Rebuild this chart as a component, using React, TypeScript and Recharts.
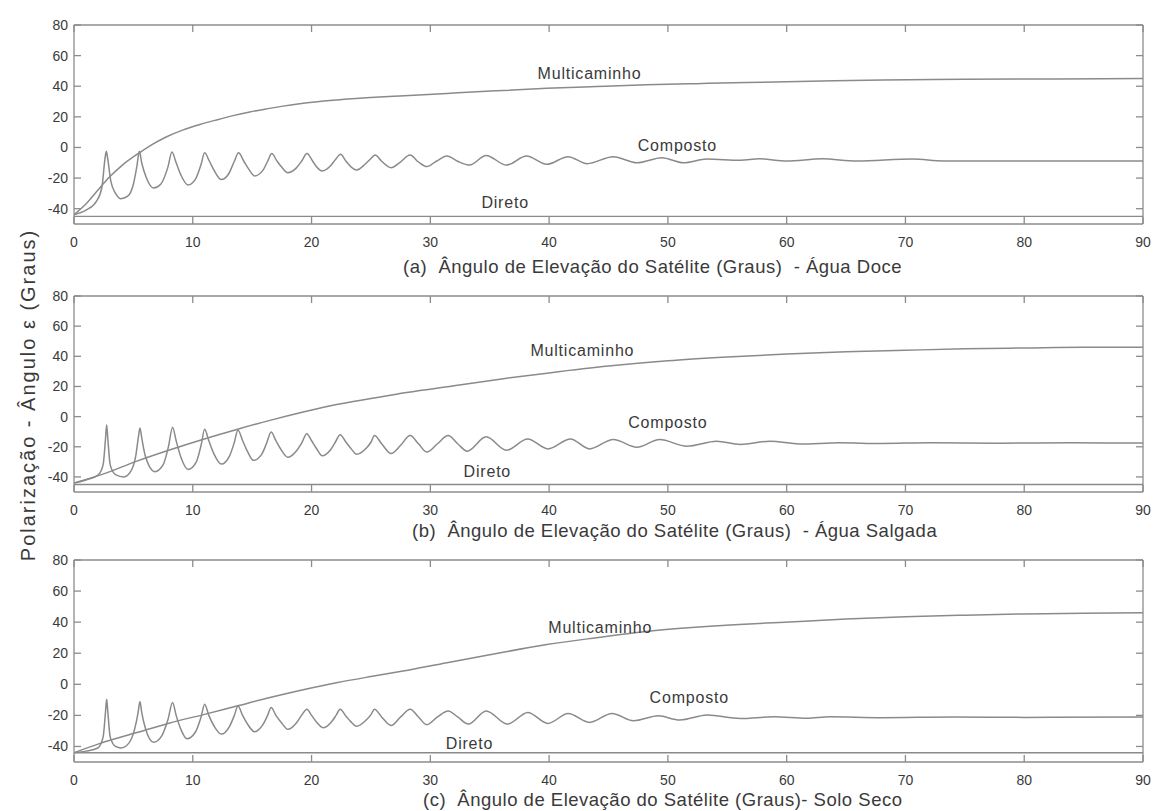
import React from 'react';
import { LineChart, Line, XAxis, YAxis, ReferenceDot } from 'recharts';

const FONT = '"Liberation Sans", Arial, Helvetica, sans-serif';
const AX = '#8c8c8c';
const LC = '#8a8a8a';
const TXT = '#3a3a3a';

const xTicks = [0, 10, 20, 30, 40, 50, 60, 70, 80, 90];
const yTicks = [-40, -20, 0, 20, 40, 60, 80];
const yDomain = [-50, 80];
const xDomain = [0, 90];

const seriesNames = ['Multicaminho', 'Composto', 'Direto'];
const titles = [
  '(a)  Ângulo de Elevação do Satélite (Graus)  - Água Doce',
  '(b)  Ângulo de Elevação do Satélite (Graus)  - Água Salgada',
  '(c)  Ângulo de Elevação do Satélite (Graus)- Solo Seco',
];
const yTitle = 'Polarização - Ângulo ε (Graus)';

// ---------- Panel (a) Água Doce ----------
const diretoAX = [0, 90];
const diretoAY = [-45, -45];
const multiAX = [0, 1, 2, 2.9, 4, 5.5, 6.6, 7.8, 9.2, 10.6, 12, 13.4, 14.8, 16.2, 17.6, 19, 21.8, 24.6, 27.4, 31.4, 35.5, 39.8, 44, 48.2, 52.4, 56.6, 60, 64, 68.1, 75, 82.7, 90];
const multiAY = [-44, -37, -28, -20, -12, -3.5, 2, 7, 11.5, 15, 18, 20.8, 23.2, 25.2, 27, 28.5, 30.8, 32.4, 33.6, 35.3, 37, 38.6, 39.8, 40.9, 41.7, 42.4, 43, 43.6, 44.1, 44.5, 44.8, 45];
const compAX = [0, 1, 1.9, 2.35, 2.6, 2.72, 2.85, 3.1, 3.5, 3.95, 4.5, 5.0, 5.3, 5.5, 5.7, 6.1, 6.7, 7.3, 7.9, 8.25, 8.6, 9.0, 9.6, 10.2, 10.7, 11.0, 11.4, 11.8, 12.4, 13.0, 13.5, 13.85, 14.3, 14.7, 15.2, 15.9, 16.3, 16.65, 17.1, 17.5, 18.0, 18.7, 19.2, 19.6, 20.1, 20.4, 20.9, 21.6, 22.0, 22.45, 22.9, 23.3, 23.8, 24.5, 24.9, 25.35, 25.9, 26.7, 27.4, 28.3, 29.0, 29.7, 30.5, 31.4, 32.3, 33.3, 34.7, 36.4, 38.1, 39.8, 41.6, 43.2, 45.4, 47.4, 49.5, 51.3, 53.3, 56.1, 57.7, 60.0, 63.0, 65.9, 70.6, 73.2, 90];
const compAY = [-44, -41, -35, -26, -8, -2.5, -8, -22, -30, -33.5, -32, -24, -12, -2.5, -10, -20, -26.5, -24, -13, -3, -10, -18, -24.5, -21, -11, -3.5, -9, -15, -21, -17.5, -9, -3.5, -9, -14, -18.6, -15, -9, -4, -9, -13, -16.5, -13.5, -8.5, -4, -9, -12.5, -15.4, -12, -8, -4.5, -9, -12.5, -14.7, -11, -8, -5, -9, -13.2, -10, -5, -9.5, -12.5, -9, -5.6, -9, -11.5, -5.2, -11.5, -5.6, -11, -6, -10.6, -6, -10, -6.7, -10, -7.6, -8.4, -7.4, -8.9, -7.4, -8.9, -7.6, -8.8, -8.8];
const labelAX = [43.4, 50.8, 36.3];
const labelAY = [48.7, 1.9, -35.7];

// ---------- Panel (b) Água Salgada ----------
const diretoBX = [0, 90];
const diretoBY = [-45, -45];
const multiBX = [0, 2.5, 5.3, 8.1, 10.9, 13.7, 16.5, 19.3, 22.1, 25, 28, 32, 36, 40, 45, 50, 55, 60, 65, 70, 75, 80, 85, 90];
const multiBY = [-44, -38, -29.5, -22, -15, -8.5, -2.5, 3, 8, 12, 16, 20.5, 25, 29, 33.5, 37, 39.5, 41.5, 43, 44, 45, 45.5, 46, 46];
const compBX = [0, 1, 2.0, 2.45, 2.65, 2.75, 2.85, 3.05, 3.5, 4.2, 4.8, 5.2, 5.45, 5.55, 5.7, 6.0, 6.8, 7.5, 7.95, 8.3, 8.6, 9.0, 9.6, 10.3, 10.7, 11.0, 11.35, 11.8, 12.4, 13.1, 13.5, 13.8, 14.2, 14.6, 15.1, 15.8, 16.2, 16.6, 17.0, 17.4, 18.0, 18.7, 19.2, 19.6, 20.0, 20.4, 20.9, 21.6, 22.0, 22.4, 22.9, 23.3, 23.8, 24.6, 25.0, 25.3, 25.9, 26.7, 27.5, 28.3, 29.0, 29.7, 30.6, 31.5, 32.3, 33.1, 34.7, 36.4, 38.2, 39.9, 41.8, 43.4, 45.4, 47.4, 49.3, 51.6, 54.1, 56.1, 58.6, 61.1, 64.5, 68, 72, 78, 84, 90];
const compBY = [-44, -42, -39, -32, -15, -5.5, -15, -32, -38.5, -40, -36, -26, -12, -7.5, -14, -26, -36.5, -32, -20, -7, -16, -27, -35, -30, -19, -8.4, -16, -25, -31.5, -26, -17, -8.8, -16, -23, -29, -25, -18, -10.2, -16, -21.5, -27, -23, -17, -11.3, -16, -21, -26, -22, -17, -12, -17, -21, -25, -21, -17, -12.5, -18, -24.5, -19, -12.6, -18, -23.5, -18, -12.6, -18, -22.9, -13.4, -22.3, -14.8, -21.4, -14.8, -21.4, -15.2, -20.3, -15.2, -19.6, -16.3, -18.5, -16.3, -18.1, -17.4, -17.8, -17.3, -17.6, -17.4, -17.5];
const labelBX = [42.8, 50.0, 34.8];
const labelBY = [44.3, -3.3, -36.4];

// ---------- Panel (c) Solo Seco ----------
const diretoCX = [0, 90];
const diretoCY = [-44, -44];
const multiCX = [0, 2.2, 5.3, 8, 10.9, 13.7, 16.5, 19.3, 22.1, 25, 27.7, 31.4, 35, 39.8, 44, 48.2, 52, 56, 59.4, 65, 70, 75, 80, 85, 90];
const multiCY = [-44, -38, -31, -25, -19.5, -14, -8.5, -3.5, 1, 5, 8.5, 13.9, 19, 25.6, 30, 34, 36.5, 38.5, 39.8, 42, 43.5, 44.5, 45.3, 45.8, 46];
const compCX = [0, 1, 2.0, 2.45, 2.65, 2.75, 2.85, 3.05, 3.5, 3.95, 4.6, 5.1, 5.4, 5.55, 5.7, 6.0, 6.7, 7.4, 7.9, 8.3, 8.6, 9.0, 9.5, 10.2, 10.7, 11.0, 11.35, 11.8, 12.4, 13.1, 13.5, 13.8, 14.2, 14.6, 15.2, 15.9, 16.3, 16.6, 17.0, 17.5, 18.0, 18.7, 19.2, 19.6, 20.0, 20.5, 21.0, 21.7, 22.1, 22.4, 22.9, 23.3, 23.8, 24.6, 25.0, 25.3, 25.9, 26.7, 27.5, 28.3, 29.0, 29.7, 30.6, 31.5, 32.3, 33.2, 34.7, 36.5, 38.2, 39.9, 41.6, 43.4, 45.3, 47.1, 49.2, 51.0, 53.3, 56.1, 58.9, 61.7, 63.6, 68, 74, 80, 90];
const compCY = [-44, -43, -41, -34, -18, -9.6, -18, -34, -40, -41, -38, -29, -18, -11, -18, -28, -37.3, -33, -23, -11.7, -20, -29, -35, -31, -21, -12.8, -20, -27, -32, -27, -20, -13.9, -20, -25.5, -30.5, -26, -20, -14.9, -20, -25, -29, -25, -19.5, -16, -20, -25, -28, -24, -19.5, -16, -20.5, -24, -27, -23, -19.5, -16, -21, -26.5, -21, -16, -21, -26, -21, -17.1, -21, -25.6, -17.1, -25.6, -18.1, -25.2, -18.8, -24.5, -18.8, -23.5, -20.3, -23, -19.8, -22, -20.9, -21.8, -20.9, -21.5, -21, -21.3, -21];
const labelCX = [44.3, 51.8, 33.3];
const labelCY = [37.1, -8.3, -37.8];

const pts = (xs: number[], ys: number[]) => xs.map((x, i) => ({ x, y: ys[i] }));

const LeftTick = (p: any) => (
  <g>
    <line x1={p.x} x2={p.x + 7} y1={p.y} y2={p.y} stroke={AX} strokeWidth={1.3} />
    <text x={p.x - 6} y={p.y} dy={5} textAnchor="end" fontSize={14} fontFamily={FONT} fill={TXT}>
      {p.payload.value}
    </text>
  </g>
);
const RightTick = (p: any) => (
  <line x1={p.x} x2={p.x - 7} y1={p.y} y2={p.y} stroke={AX} strokeWidth={1.3} />
);
const BottomTick = (p: any) => (
  <g>
    <line x1={p.x} x2={p.x} y1={p.y} y2={p.y - 7} stroke={AX} strokeWidth={1.3} />
    <text x={p.x} y={p.y} dy={23} textAnchor="middle" fontSize={14} fontFamily={FONT} fill={TXT}>
      {p.payload.value}
    </text>
  </g>
);
const TopTick = (p: any) => (
  <line x1={p.x} x2={p.x} y1={p.y} y2={p.y + 7} stroke={AX} strokeWidth={1.3} />
);

type PanelProps = {
  top: number;
  plotH: number;
  direto: { x: number; y: number }[];
  multi: { x: number; y: number }[];
  comp: { x: number; y: number }[];
  lx: number[];
  ly: number[];
};

function Panel({ top, plotH, direto, multi, comp, lx, ly }: PanelProps) {
  const height = 24 + plotH + 50;
  const axisLine = { stroke: AX, strokeWidth: 1.3 };
  return (
    <div style={{ position: 'absolute', left: 0, top, width: 1154, height }}>
      <LineChart width={1154} height={height} margin={{ top: 24, right: 10, bottom: 0, left: 0 }}>
        <XAxis xAxisId="b" dataKey="x" type="number" domain={xDomain} ticks={xTicks} interval={0}
          height={50} tickSize={0} tickMargin={0} tickLine={false} axisLine={axisLine}
          tick={(p: any) => <BottomTick {...p} />} allowDataOverflow />
        <XAxis xAxisId="t" orientation="top" dataKey="x" type="number" domain={xDomain} ticks={xTicks} interval={0}
          height={1} tickSize={0} tickMargin={0} tickLine={false} axisLine={axisLine}
          tick={(p: any) => <TopTick {...p} />} allowDataOverflow />
        <YAxis yAxisId="l" type="number" domain={yDomain} ticks={yTicks} interval={0}
          width={74} tickSize={0} tickMargin={0} tickLine={false} axisLine={axisLine}
          tick={(p: any) => <LeftTick {...p} />} allowDataOverflow />
        <YAxis yAxisId="r" orientation="right" type="number" domain={yDomain} ticks={yTicks} interval={0}
          width={1} tickSize={0} tickMargin={0} tickLine={false} axisLine={axisLine}
          tick={(p: any) => <RightTick {...p} />} allowDataOverflow />
        <Line xAxisId="t" yAxisId="r" data={direto} dataKey="y" type="linear" dot={false}
          stroke="none" strokeWidth={0} isAnimationActive={false} legendType="none" />
        <Line xAxisId="b" yAxisId="l" data={direto} dataKey="y" type="linear" dot={false}
          stroke={LC} strokeWidth={1.4} isAnimationActive={false} />
        <Line xAxisId="b" yAxisId="l" data={multi} dataKey="y" type="monotone" dot={false}
          stroke={LC} strokeWidth={1.5} isAnimationActive={false} />
        <Line xAxisId="b" yAxisId="l" data={comp} dataKey="y" type="monotone" dot={false}
          stroke={LC} strokeWidth={1.5} isAnimationActive={false} />
        {seriesNames.map((name, i) => (
          <ReferenceDot key={name} xAxisId="b" yAxisId="l" x={lx[i]} y={ly[i]} r={0}
            shape={(p: any) => (
              <text x={p.cx} y={p.cy} dy={6} textAnchor="middle" fontSize={16} letterSpacing={0.8}
                fontFamily={FONT} fill={TXT}>{name}</text>
            )} />
        ))}
      </LineChart>
    </div>
  );
}

export default function App() {
  return (
    <div style={{ position: 'absolute', left: 0, top: 0, width: 1154, height: 811, background: '#fff', overflow: 'hidden' }}>
      <Panel top={0} plotH={200} direto={pts(diretoAX, diretoAY)} multi={pts(multiAX, multiAY)}
        comp={pts(compAX, compAY)} lx={labelAX} ly={labelAY} />
      <Panel top={271} plotH={197} direto={pts(diretoBX, diretoBY)} multi={pts(multiBX, multiBY)}
        comp={pts(compBX, compBY)} lx={labelBX} ly={labelBY} />
      <Panel top={535} plotH={203} direto={pts(diretoCX, diretoCY)} multi={pts(multiCX, multiCY)}
        comp={pts(compCX, compCY)} lx={labelCX} ly={labelCY} />
      <svg width={1154} height={811} style={{ position: 'absolute', left: 0, top: 0, pointerEvents: 'none' }}>
        <text x={403} y={273} fontSize={18.5} letterSpacing={0.5} fontFamily={FONT} fill={TXT} xmlSpace="preserve">{titles[0]}</text>
        <text x={412} y={537} fontSize={18.5} letterSpacing={0.5} fontFamily={FONT} fill={TXT} xmlSpace="preserve">{titles[1]}</text>
        <text x={423} y={806} fontSize={18.5} letterSpacing={0.5} fontFamily={FONT} fill={TXT} xmlSpace="preserve">{titles[2]}</text>
        <text transform="translate(28,395) rotate(-90)" x={0} y={0} dy={7} textAnchor="middle" fontSize={20}
          letterSpacing={2} fontFamily={FONT} fill={TXT}>{yTitle}</text>
      </svg>
    </div>
  );
}
